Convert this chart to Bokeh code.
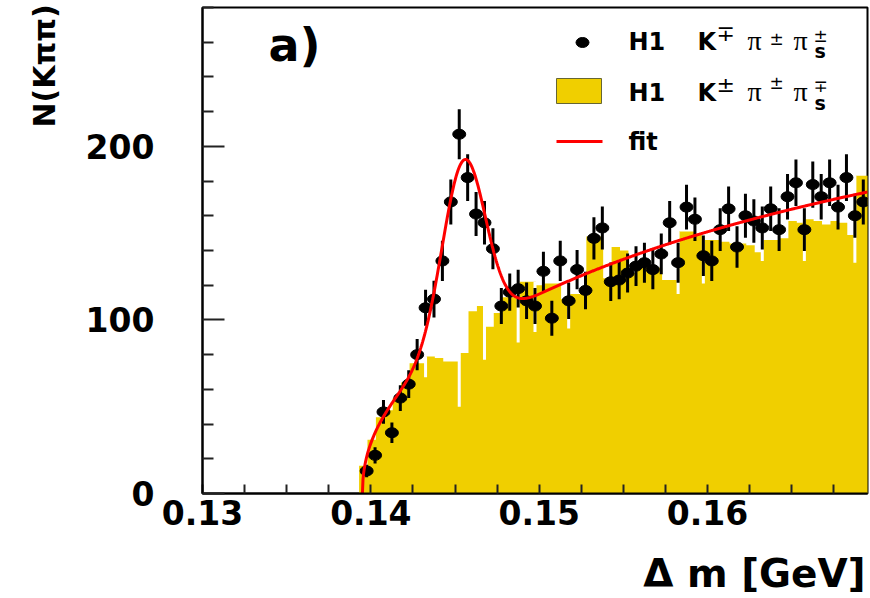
import numpy as np
from bokeh.plotting import figure
from bokeh.models import Range1d, FixedTicker, Label, PrintfTickFormatter
from bokeh.embed import file_html
from bokeh.resources import INLINE

# ---------------- data ----------------
BIN_WIDTH = 0.0005
DATA_FIRST_CENTER = 0.13975          # H1 K-/+ pi+/- pi_s+/- (right charge), bin centres
data_counts = [13, 22, 47, 35, 55, 63, 80, 107, 112, 134,
               168, 207, 182, 161, 156, 141, 108, 116, 118, 111,
               108, 128, 101, 134, 111, 129, 117, 147, 153, 122,
               123, 127, 131, 133, 129, 138, 156, 133, 165, 158,
               137, 134, 152, 164, 142, 160, 157, 153, 164, 152,
               171, 179, 152, 178, 171, 179, 165, 182, 160, 168]

BG_FIRST_EDGE = 0.1393               # H1 K+/- pi+/- pi_s-/+ (wrong charge)
bg_counts = [16, 31, 44, 48, 55, 64, 75, 75, 79, 78,
             76, 76, 81, 105, 108, 96, 104, 113, 113, 122,
             122, 120, 121, 121, 112, 115, 115, 148, 148, 124,
             142, 140, 127, 133, 131, 130, 123, 123, 151, 151,
             149, 146, 146, 145, 144, 144, 143, 139, 146, 146,
             147, 157, 156, 158, 157, 155, 157, 156, 149, 183, 183]
# lower ends of the white error bars of the wrong-charge histogram that show through
bg_err_low = [None] * 60
for i, v in [(7, 67), (11, 50), (14, 77), (18, 87), (20, 93), (24, 95),
             (37, 115), (40, 121), (47, 134), (52, 134), (58, 133)]:
    bg_err_low[i] = v

# fit: threshold background + gaussian
FIT_M0, FIT_A, FIT_P, FIT_C = 0.1395, 988.0, 0.464, 3.71
FIT_N, FIT_MU, FIT_SIG = 102.0, 0.14552, 0.00127

x_ticks = [0.13, 0.14, 0.15, 0.16]
x_minor = [0.1325, 0.135, 0.1375, 0.1425, 0.145, 0.1475, 0.1525, 0.155, 0.1575,
           0.1625, 0.165, 0.1675]
y_ticks = [0, 100, 200]
y_minor = [20, 40, 60, 80, 120, 140, 160, 180, 220, 240, 260, 280]
X_MIN, X_MAX, Y_MIN, Y_MAX = 0.13, 0.1695, 0, 280

YELLOW = "#f0cf00"
BOLD_FONT = "DejaVu Sans"

# ---------------- layout ----------------
W, H = 870, 598
BL, BR, BT, BB = 202, 3, 7, 105
FRAME_W = W - BL - BR
FRAME_H = H - BT - BB

p = figure(width=W, height=H, x_range=Range1d(X_MIN, X_MAX), y_range=Range1d(Y_MIN, Y_MAX),
           output_backend="svg", toolbar_location=None,
           min_border_left=BL, min_border_right=BR, min_border_top=BT, min_border_bottom=BB)
p.background_fill_color = "white"
p.border_fill_color = "white"
p.outline_line_color = "black"
p.outline_line_width = 2
p.xgrid.visible = False
p.ygrid.visible = False

for ax in (p.xaxis[0], p.yaxis[0]):
    ax.axis_line_width = 2
    ax.axis_line_color = "black"
    ax.major_tick_out = 0
    ax.minor_tick_out = 0
    ax.major_tick_line_width = 2
    ax.minor_tick_line_width = 2
    ax.major_tick_line_color = "#222222"
    ax.minor_tick_line_color = "#222222"
    ax.major_label_text_font = BOLD_FONT
    ax.major_label_text_font_style = "bold"
    ax.major_label_text_font_size = "33px"
    ax.major_label_text_color = "black"

p.xaxis.ticker = FixedTicker(ticks=x_ticks, minor_ticks=x_minor)
p.xaxis.formatter = PrintfTickFormatter(format="%.2f")
p.xaxis.major_tick_in = 9
p.xaxis.minor_tick_in = 9
p.xaxis.major_label_standoff = 6

p.yaxis.ticker = FixedTicker(ticks=y_ticks, minor_ticks=y_minor)
p.yaxis.major_tick_in = 22
p.yaxis.minor_tick_in = 11
p.yaxis.major_label_standoff = 48

# ---------------- helpers: window pixels -> data coordinates ----------------
WIN_L, WIN_B = BL, BT + FRAME_H     # frame left / bottom in window px


def rx(X):   # window x -> screen x relative to frame left
    return X - WIN_L


def ry(Y):   # window y -> screen y relative to frame bottom
    return WIN_B - Y


def dx(X):
    return X_MIN + rx(X) / FRAME_W * (X_MAX - X_MIN)


def dy(Y):
    return Y_MIN + ry(Y) / FRAME_H * (Y_MAX - Y_MIN)


# axis titles: labels kept in the side panels (not clipped), positioned through the scales
p.add_layout(Label(x=dx(865), y=dy(587 - 0.35 * 39), text="\u0394 m [GeV]", text_align="right",
                   text_baseline="middle", text_font=BOLD_FONT, text_font_style="bold",
                   text_font_size="39px", text_color="black"), "below")
p.add_layout(Label(x=dx(54 - 0.35 * 30), y=dy(127), text="N(K\u03c0\u03c0)", text_align="left",
                   angle=np.pi / 2, text_baseline="middle", text_font=BOLD_FONT,
                   text_font_style="bold", text_font_size="30px", text_color="black"), "left")

# ---------------- marks ----------------
bg_edges = BG_FIRST_EDGE + BIN_WIDTH * np.arange(len(bg_counts) + 1)
p.varea_step(x=bg_edges, y1=np.zeros(len(bg_edges)), y2=bg_counts + [bg_counts[-1]],
             step_mode="after", fill_color=YELLOW)

centers = DATA_FIRST_CENTER + BIN_WIDTH * np.arange(len(data_counts))
nx, ny0, ny1 = [], [], []
for i, low in enumerate(bg_err_low):
    if low is None:
        continue
    nx.append(centers[i])
    ny0.append(low)
    ny1.append(max(bg_counts[i], bg_counts[i + 1]))
p.segment(x0=nx, y0=ny0, x1=nx, y1=ny1, line_color="white", line_width=3)

counts = np.array(data_counts, dtype=float)
err = np.sqrt(counts)
p.segment(x0=centers, y0=counts - err, x1=centers, y1=counts + err,
          line_color="black", line_width=3)
p.ellipse(x=centers, y=counts, width=13, height=10, width_units="screen",
          height_units="screen", fill_color="black", line_color="black")

xf = np.linspace(FIT_M0, X_MAX, 900)
d = xf - FIT_M0
yf = FIT_A * d ** FIT_P * np.exp(-FIT_C * d) + FIT_N * np.exp(-0.5 * ((xf - FIT_MU) / FIT_SIG) ** 2)
xf = np.concatenate([[FIT_M0 - 0.0001], xf])
yf = np.concatenate([[0.0], yf])
p.line(xf, yf, line_color="#ff0000", line_width=3)


def lab(X, Yb, text, size, font=BOLD_FONT, style="bold", align="left"):
    # Yb: wanted baseline (window px); labels are placed by their vertical middle
    yc = Yb - 0.35 * size
    p.add_layout(Label(x=rx(X), y=ry(yc), x_units="screen", y_units="screen", text=text,
                       text_font=font, text_font_size="%dpx" % size, text_font_style=style,
                       text_align=align, text_baseline="middle", text_color="black"))


# legend symbols
p.ellipse(x=[dx(582)], y=[dy(42)], width=13, height=10, width_units="screen",
          height_units="screen", fill_color="black", line_color="black")
p.quad(left=[dx(556)], right=[dx(601)], bottom=[dy(103)], top=[dy(78)],
       fill_color=YELLOW, line_color="#666633", line_width=1)
p.line([dx(556), dx(602)], [dy(141), dy(141)], line_color="#ff0000", line_width=3)

SERIF = "Liberation Serif"
# row 1
lab(628, 50, "H1", 24)
lab(697, 50, "K", 24)
lab(716, 41, "\u2213", 22, style="normal")
lab(747, 50, "\u03c0", 28, font=SERIF, style="normal")
lab(769, 44, "\u00b1", 17, style="normal")
lab(793, 50, "\u03c0", 28, font=SERIF, style="normal")
lab(813, 41, "\u00b1", 17, style="normal")
lab(814, 57, "s", 19)
# row 2
lab(628, 101, "H1", 24)
lab(697, 101, "K", 24)
lab(716, 92, "\u00b1", 22, style="normal")
lab(747, 101, "\u03c0", 28, font=SERIF, style="normal")
lab(769, 88, "\u00b1", 17, style="normal")
lab(793, 101, "\u03c0", 28, font=SERIF, style="normal")
lab(813, 91, "\u2213", 17, style="normal")
lab(814, 109, "s", 19)
# row 3
lab(628, 150, "fit", 24)

# panel label
lab(268, 61, "a)", 46)

open("out.html", "w").write(file_html(p, INLINE))
